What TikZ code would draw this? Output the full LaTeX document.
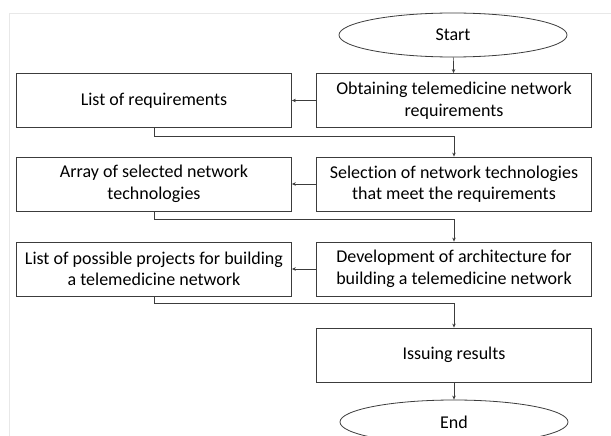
\documentclass[tikz,border=0pt]{standalone}
\usepackage{fontspec}
\setmainfont{Carlito}[Ligatures=NoCommon]
\usetikzlibrary{shapes.geometric, arrows.meta, positioning}
\definecolor{linegray}{RGB}{60,60,60}
\definecolor{framegray}{RGB}{232,232,232}
\tikzset{
    box/.style={draw=linegray, line width=0.8pt, fill=white, align=center, font=\fontsize{18}{21.5}\selectfont, minimum height=54pt, minimum width=275pt, inner sep=0pt},
    term/.style={ellipse, draw=linegray, line width=0.8pt, fill=white, align=center, font=\fontsize{18}{21.5}\selectfont, minimum height=44pt, minimum width=228pt, inner sep=0pt},
    arr/.style={-{Stealth[length=4pt, width=3.5pt]}, line width=0.7pt, draw=linegray}
}

\begin{document}
\begin{tikzpicture}[x=1pt, y=1pt]
        \useasboundingbox (0,0) rectangle (611,-436);
        % faint page frame
        \draw[framegray, line width=1pt] (9,-436) -- (9,-14) -- (611,-14);

        % main column
        \node[term] (start) at (453,-35) {Start};
        \node[box] (obtain) at (454,-100.5) {Obtaining telemedicine network\\requirements};
        \node[box] (select) at (454,-184) {Selection of network technologies\\that meet the requirements};
        \node[box] (develop) at (454,-269) {Development of architecture for\\building a telemedicine network};
        \node[box] (issue) at (454,-355) {Issuing results};
        \node[term] (stop) at (454,-422) {End};

        % results column
        \node[box] (reqlist) at (154,-100.5) {List of requirements};
        \node[box] (techarray) at (154,-184) {Array of selected network\\technologies};
        \node[box] (projlist) at (154,-269) {List of possible projects for building\\a telemedicine network};

        \draw[arr] (start) -- (obtain);
        \draw[arr] (obtain) -- (reqlist);
        \draw[arr] (reqlist.south) -- ++(0,-8) -| (select.north);
        \draw[arr] (select) -- (techarray);
        \draw[arr] (techarray.south) -- ++(0,-8) -| (develop.north);
        \draw[arr] (develop) -- (projlist);
        \draw[arr] (projlist.south) -- ++(0,-7) -| (issue.north);
        \draw[arr] (issue) -- (stop);
      \end{tikzpicture}
\end{document}
